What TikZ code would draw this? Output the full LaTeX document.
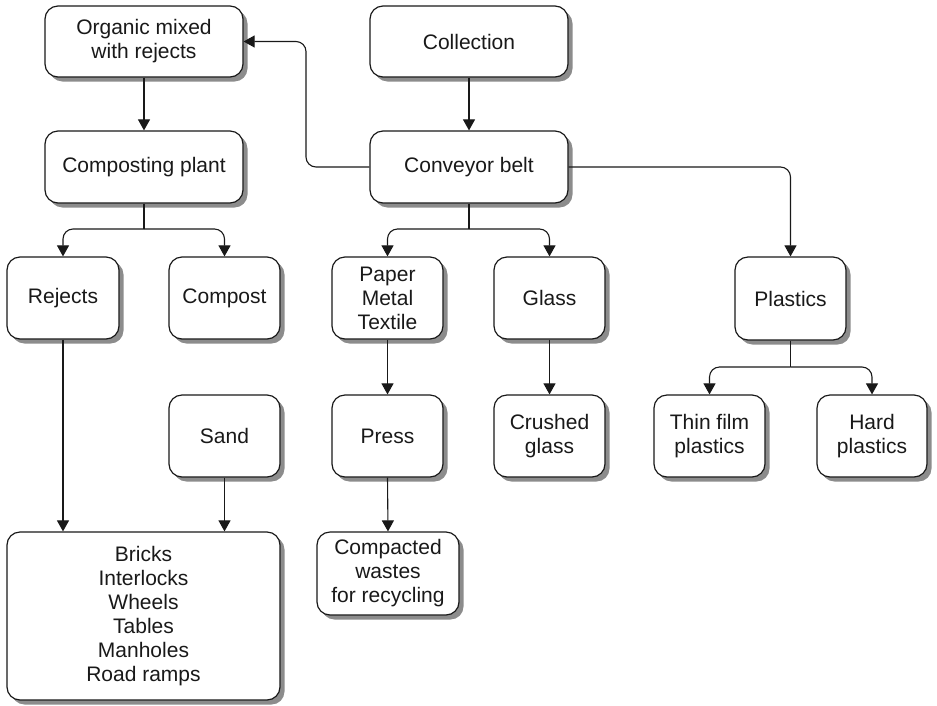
\documentclass[tikz,border=0pt]{standalone}
\usepackage{fontspec}
\setmainfont{Liberation Sans}
\usetikzlibrary{arrows.meta,shadows}
\begin{document}
\begin{tikzpicture}[x=1pt,y=-1pt,
  box/.style={draw=black!90, line width=1.2pt, rounded corners=13pt, fill=white,
    align=center, inner sep=0pt,
    font=\fontsize{21}{24}\selectfont, text=black!90,
    drop shadow={shadow xshift=4.5pt, shadow yshift=-4.5pt, fill=black!45, opacity=1}},
  arr/.style={draw=black!90, line width=1.1pt, -{Triangle[length=11pt,width=12pt]}},
  link/.style={draw=black!90, line width=1.1pt},
  roundbend/.style={rounded corners=10pt}]
\useasboundingbox (0,0) rectangle (937,705);

% top rows
\node[box, minimum width=198pt, minimum height=71pt] (org) at (144,41.5) {Organic mixed\\with rejects};
\node[box, minimum width=198pt, minimum height=71pt] (coll) at (469,41.5) {Collection};
\node[box, minimum width=198pt, minimum height=72pt] (compo) at (144,167) {Composting plant};
\node[box, minimum width=198pt, minimum height=72pt] (conv) at (469,167) {Conveyor belt};

% sorted fractions
\node[box, minimum width=112pt, minimum height=82pt] (rej) at (63,298) {Rejects};
\node[box, minimum width=111pt, minimum height=82pt] (compost) at (224.5,298) {Compost};
\node[box, minimum width=111pt, minimum height=82pt] (pmt) at (387.5,298) {Paper\\Metal\\Textile};
\node[box, minimum width=111pt, minimum height=82pt] (glass) at (549.5,298) {Glass};
\node[box, minimum width=111pt, minimum height=83pt] (plast) at (790.5,298.5) {Plastics};

% processing
\node[box, minimum width=111pt, minimum height=82pt] (sand) at (224.5,436) {Sand};
\node[box, minimum width=111pt, minimum height=82pt] (press) at (387.5,436) {Press};
\node[box, minimum width=111pt, minimum height=82pt] (crushed) at (549.5,436) {Crushed\\glass};
\node[box, minimum width=111pt, minimum height=82pt] (thin) at (709.5,436) {Thin film\\plastics};
\node[box, minimum width=110pt, minimum height=82pt] (hard) at (872,436) {Hard\\plastics};

% products
\node[box, minimum width=273pt, minimum height=168pt] (bricks) at (143.5,616) {Bricks\\Interlocks\\Wheels\\Tables\\Manholes\\Road ramps};
\node[box, minimum width=142pt, minimum height=83pt] (compact) at (388,573.5) {Compacted\\wastes\\for recycling};

% straight flows
\draw[arr] (org) -- (compo);
\draw[arr] (coll) -- (conv);
\draw[arr] (glass) -- (crushed);
\draw[arr] (pmt) -- (press);
\draw[arr] (press.south) -- (compact.north);
\draw[arr] (rej.south) -- (rej.south |- bricks.north);
\draw[arr] (sand.south) -- (sand.south |- bricks.north);

% feedback of organics
\coordinate (fb) at (306,167);
\draw[arr, roundbend] (conv.west) -- (fb) |- (org.east);

% conveyor to plastics
\draw[arr, roundbend] (conv.east) -| (plast.north);

% branching flows
\coordinate (cpj) at (144,229);
\draw[link] (compo.south) -- (cpj);
\draw[arr, roundbend] (cpj) -| (rej.north);
\draw[arr, roundbend] (cpj) -| (compost.north);

\coordinate (cvj) at (469,229);
\draw[link] (conv.south) -- (cvj);
\draw[arr, roundbend] (cvj) -| (pmt.north);
\draw[arr, roundbend] (cvj) -| (glass.north);

\coordinate (plj) at (790.5,367);
\draw[link] (plast.south) -- (plj);
\draw[arr, roundbend] (plj) -| (thin.north);
\draw[arr, roundbend] (plj) -| (hard.north);
\end{tikzpicture}
\end{document}
